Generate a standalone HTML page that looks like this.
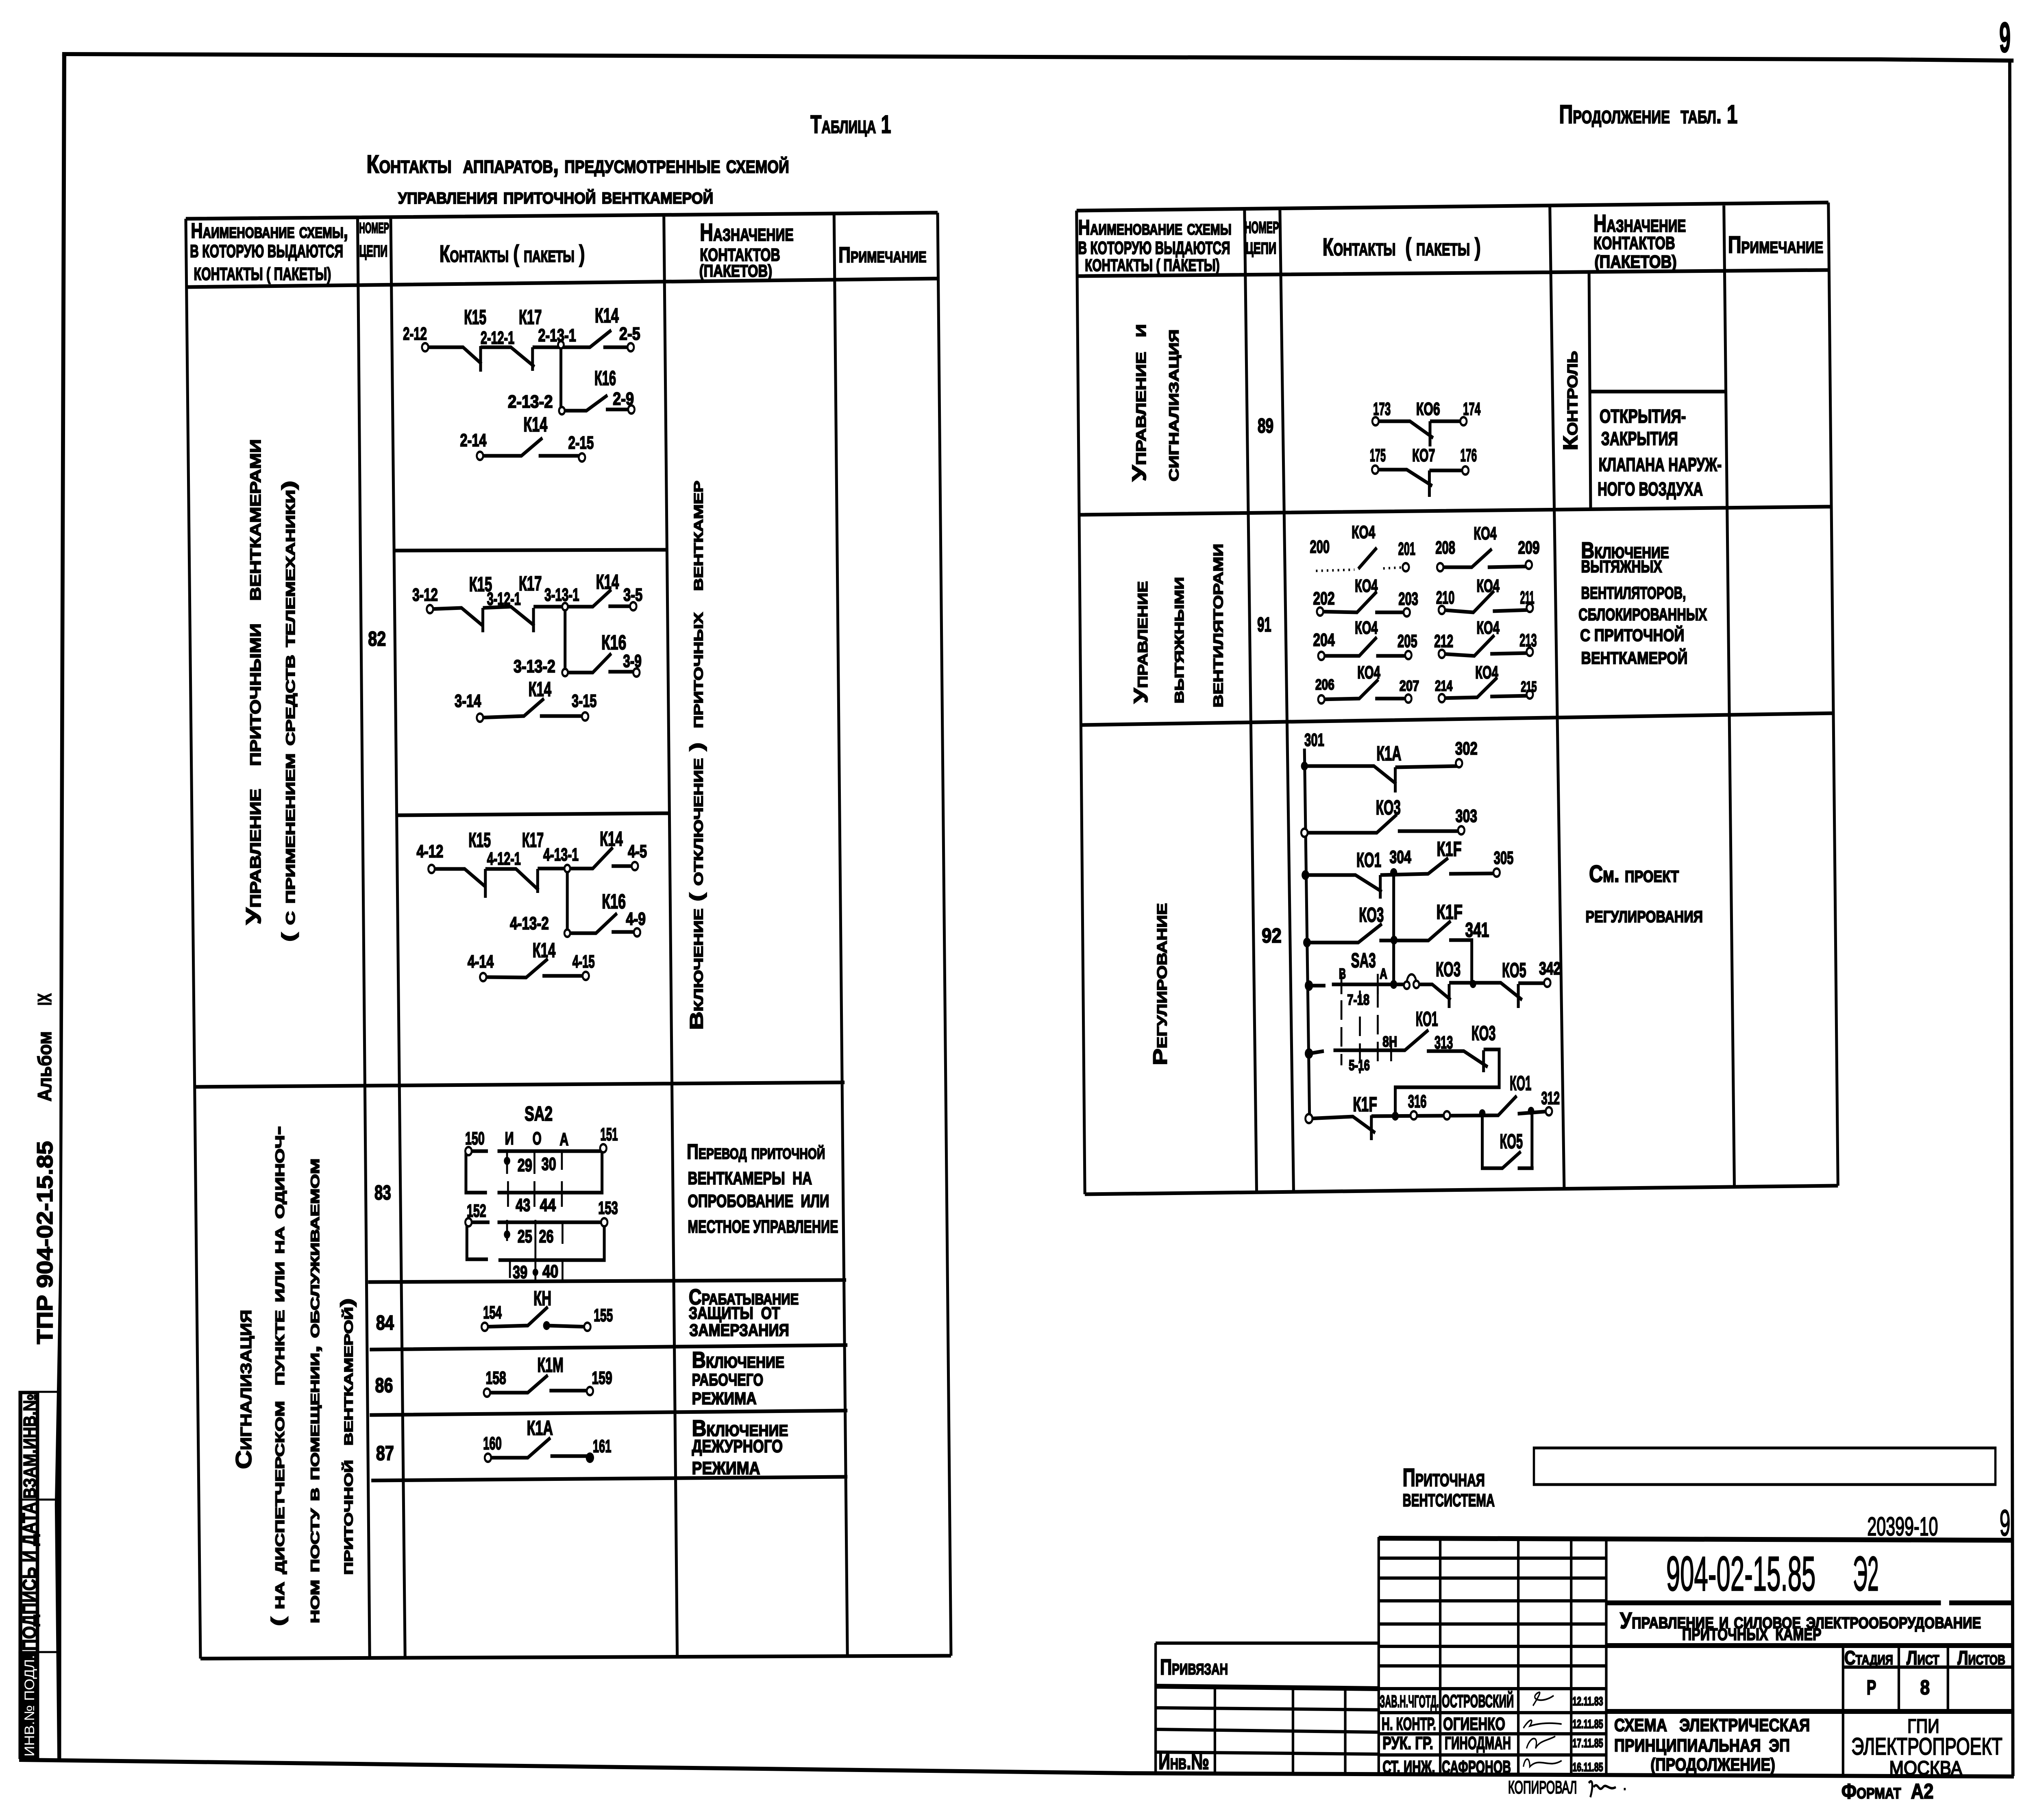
<!DOCTYPE html>
<html lang="ru"><head><meta charset="utf-8"><title>904-02-15.85 Э2</title>
<style>
html,body{margin:0;padding:0;background:#fff;width:100%;height:100%;overflow:hidden}
svg{display:block;width:100%;height:100%}
text{font-family:"Liberation Sans","Noto Sans CJK SC",sans-serif;font-weight:700;fill:#000;stroke:#000;stroke-width:2.5;dominant-baseline:central;white-space:pre}
.t{font-variant:small-caps}
.l{text-anchor:middle;font-size:44px}
.k{text-anchor:middle;font-size:50px}
.n{text-anchor:middle;font-size:36px}
.f,.w,.g,.s{fill:none;stroke:#000}
.f{stroke-width:10}
.g{stroke-width:9}
.w{stroke-width:9}
.s{stroke-width:4}
.c{fill:#fff;stroke:#000;stroke-width:6}
.d{fill:#000}
</style></head><body>
<svg xmlns="http://www.w3.org/2000/svg" viewBox="0 0 6379 4476" preserveAspectRatio="none">
<rect width="6379" height="4476" fill="#fff"/>

<!-- sheet frame -->
<path class="f" d="M195 133 L1500 136 L5900 146 L6318 149"/>
<path d="M195 133 H208 L199 2300 L193 3300 L192 4326 H180 L172 3700 L186 3100 L187 2300 Z"/>
<path class="f" d="M6306 149 L6316 4368"/>
<path class="f" d="M60 4328 L3550 4361 L6319 4369"/>
<text x="6273" y="92" font-size="105" textLength="36" lengthAdjust="spacingAndGlyphs">9</text>

<!-- left binding strip -->
<rect x="58" y="3421" width="12" height="905"/>
<rect x="112" y="3421" width="11" height="905"/>
<path class="g" style="stroke-width:5" d="M58 3423H190 M58 3688H190 M58 4063H190"/>
<rect x="58" y="3421" width="65" height="8"/>
<rect x="58" y="4063" width="60" height="263"/>
<text transform="translate(93,3686) rotate(-90)" font-size="56" textLength="258" lengthAdjust="spacingAndGlyphs">ВЗАМ.ИНВ.№</text>
<text transform="translate(93,4060) rotate(-90)" font-size="60" textLength="366" lengthAdjust="spacingAndGlyphs">ПОДПИСЬ И ДАТА</text>
<text transform="translate(93,4320) rotate(-90)" font-size="44" textLength="250" lengthAdjust="spacingAndGlyphs" style="fill:#fff;stroke:none;font-weight:400">ИНВ.№ ПОДЛ.</text>
<text transform="translate(141,3306) rotate(-90)" font-size="70" textLength="500" lengthAdjust="spacingAndGlyphs">ТПР 904-02-15.85</text>
<text transform="translate(141,2709) rotate(-90)" font-size="60" textLength="173" lengthAdjust="spacingAndGlyphs">Альбом</text>
<text transform="translate(141,2473) rotate(-90)" font-size="60" textLength="30" lengthAdjust="spacingAndGlyphs">IX</text>

<!-- TABLE 1 titles -->
<text class="t" x="2543" y="306" font-size="62" textLength="253" lengthAdjust="spacingAndGlyphs">Таблица 1</text>
<text class="t" x="1150" y="404" font-size="62" textLength="1326" lengthAdjust="spacingAndGlyphs">Контакты  аппаратов, предусмотренные схемой</text>
<text class="t" x="1249" y="481" font-size="56" textLength="989" lengthAdjust="spacingAndGlyphs">управления приточной венткамерой</text>

<!-- TABLE 1 grid -->
<path class="g" d="M583 538 L2942 523 M583 706 L2942 685
M583 538 L629 4079 M1122 537 L1160 4079 M1226 536 L1271 4077 M2083 530 L2125 4075 M2617 525 L2659 4073 M2942 523 L2984 4072
M629 4079 L2984 4072
M1238 1354 L2092 1352 M1246 2005 L2100 2000
M613 2673 L2650 2662 M1155 3153 L2655 3148 M1160 3319 L2659 3308 M1160 3480 L2659 3469 M1165 3641 L2659 3632"/>

<!-- TABLE 1 header -->
<text class="t" x="599" y="567" font-size="52" textLength="493" lengthAdjust="spacingAndGlyphs">Наименование схемы,</text>
<text x="596" y="618" font-size="44" textLength="481" lengthAdjust="spacingAndGlyphs">В КОТОРУЮ ВЫДАЮТСЯ</text>
<text x="608" y="674" font-size="44" textLength="431" lengthAdjust="spacingAndGlyphs">КОНТАКТЫ ( ПАКЕТЫ)</text>
<text x="1127" y="561" font-size="36" textLength="94" lengthAdjust="spacingAndGlyphs">НОМЕР</text>
<text x="1127" y="617" font-size="40" textLength="89" lengthAdjust="spacingAndGlyphs">ЦЕПИ</text>
<text class="t" x="1379" y="625" font-size="58" textLength="456" lengthAdjust="spacingAndGlyphs">Контакты ( пакеты )</text>
<text class="t" x="2196" y="572" font-size="60" textLength="294" lengthAdjust="spacingAndGlyphs">Назначение</text>
<text x="2196" y="627" font-size="44" textLength="252" lengthAdjust="spacingAndGlyphs">КОНТАКТОВ</text>
<text x="2194" y="666" font-size="42" textLength="229" lengthAdjust="spacingAndGlyphs">(ПАКЕТОВ)</text>
<text class="t" x="2631" y="627" font-size="54" textLength="276" lengthAdjust="spacingAndGlyphs">Примечание</text>

<!-- TABLE 1 rotated -->
<text class="t" transform="translate(795,2274) rotate(-90)" font-size="66" textLength="1194" lengthAdjust="spacingAndGlyphs">Управление   приточными   венткамерами</text>
<text class="t" transform="translate(906,2316) rotate(-90)" font-size="58" textLength="1134" lengthAdjust="spacingAndGlyphs">( с применением средств телемеханики)</text>
<text class="t" transform="translate(2186,2533) rotate(-90)" font-size="58" textLength="1351" lengthAdjust="spacingAndGlyphs">Включение ( отключение )  приточных   венткамер</text>
<text class="t" transform="translate(765,3613) rotate(-90)" font-size="70" textLength="392" lengthAdjust="spacingAndGlyphs">Сигнализация</text>
<text class="t" transform="translate(873,3999) rotate(-90)" font-size="58" textLength="1230" lengthAdjust="spacingAndGlyphs">( на диспетчерском  пункте или на одиноч-</text>
<text class="t" transform="translate(984,3992) rotate(-90)" font-size="54" textLength="1143" lengthAdjust="spacingAndGlyphs">ном посту в помещении, обслуживаемом</text>
<text class="t" transform="translate(1089,3873) rotate(-90)" font-size="54" textLength="680" lengthAdjust="spacingAndGlyphs">приточной  венткамерой)</text>

<!-- row numbers T1 -->
<text class="k" x="1183" y="1571" textLength="56" lengthAdjust="spacingAndGlyphs">82</text>
<text class="k" x="1201" y="2933" textLength="52" lengthAdjust="spacingAndGlyphs">83</text>
<text class="k" x="1208" y="3253" textLength="56" lengthAdjust="spacingAndGlyphs">84</text>
<text class="k" x="1205" y="3407" textLength="56" lengthAdjust="spacingAndGlyphs">86</text>
<text class="k" x="1208" y="3574" textLength="56" lengthAdjust="spacingAndGlyphs">87</text>

<!-- T1 circuits -->
<path class="w" d="M1334 854H1453L1511 895 M1508 851V914 M1508 854H1603L1677 902 M1671 854V912 M1671 854H1851L1918 812 M1893 854H1979 M1760 854V1010H1840L1906 972 M1901 1007H1981
M1506 1121H1636L1702 1077 M1690 1121H1826
M1349 1498L1448 1495L1515 1539 M1515 1495V1555 M1515 1495L1603 1492L1677 1539 M1674 1495V1555 M1674 1492H1860L1918 1450 M1909 1491H1987 M1773 1492V1654H1860L1918 1607 M1909 1652H1997
M1506 1765L1644 1761L1707 1718 M1694 1761H1836
M1354 2137H1458L1525 2182 M1523 2137V2208 M1523 2137H1619L1690 2189 M1687 2137V2196 M1687 2136H1860L1923 2084 M1919 2130H1992 M1780 2136V2295H1870L1936 2246 M1919 2292H1999
M1516 2403L1651 2404L1719 2358 M1702 2400H1838
M1470 2831H1531 M1462 2831V2933H1528 M1561 2831H1889V2933H1561
M1470 3006H1536 M1465 3013V3097H1531 M1561 3006H1896V3099H1564
M1521 3263L1656 3260L1719 3214 M1715 3260L1843 3263
M1528 3425H1656L1719 3382 M1724 3420H1851
M1531 3585H1656L1727 3536 M1727 3581H1851"/>
<path class="w" style="stroke-width:6" d="M1591 2831V2887 M1677 2828V2887 M1763 2828V2877 M1594 2905V2968 M1677 2905V2968 M1763 2905V2968
M1591 3000V3052 M1680 3000V3153 M1765 3003V3059 M1600 3101V3143 M1765 3101V3148"/>
<g>
<circle class="c" cx="1334" cy="854" r="10"/><circle class="c" cx="1760" cy="848" r="9"/><circle class="c" cx="1979" cy="854" r="10"/><circle class="c" cx="1763" cy="1010" r="9"/><circle class="c" cx="1981" cy="1007" r="10"/><circle class="c" cx="1506" cy="1121" r="10"/><circle class="c" cx="1826" cy="1125" r="10"/>
<circle class="c" cx="1349" cy="1498" r="10"/><circle class="c" cx="1773" cy="1492" r="9"/><circle class="c" cx="1987" cy="1491" r="10"/><circle class="c" cx="1773" cy="1654" r="9"/><circle class="c" cx="1997" cy="1654" r="10"/><circle class="c" cx="1506" cy="1765" r="10"/><circle class="c" cx="1836" cy="1762" r="10"/>
<circle class="c" cx="1354" cy="2137" r="10"/><circle class="c" cx="1780" cy="2136" r="9"/><circle class="c" cx="1992" cy="2130" r="10"/><circle class="c" cx="1780" cy="2295" r="9"/><circle class="c" cx="1999" cy="2293" r="10"/><circle class="c" cx="1516" cy="2403" r="10"/><circle class="c" cx="1838" cy="2400" r="10"/>
<circle class="c" cx="1470" cy="2831" r="10"/><circle class="c" cx="1893" cy="2824" r="10"/><circle class="c" cx="1470" cy="3006" r="10"/><circle class="c" cx="1896" cy="3006" r="10"/>
<circle class="c" cx="1521" cy="3263" r="10"/><circle class="c" cx="1843" cy="3263" r="10"/><circle class="d" cx="1715" cy="3260" r="11"/>
<circle class="c" cx="1528" cy="3425" r="10"/><circle class="c" cx="1851" cy="3421" r="10"/>
<circle class="c" cx="1531" cy="3585" r="10"/><circle class="d" cx="1851" cy="3585" r="13"/>
<circle class="d" cx="1591" cy="2855" r="10"/><circle class="d" cx="1591" cy="3036" r="10"/><circle class="d" cx="1680" cy="3129" r="9"/>
</g>

<!-- T1 labels -->
<text class="k" x="1491" y="780" textLength="70" lengthAdjust="spacingAndGlyphs">К15</text>
<text class="k" x="1664" y="780" textLength="72" lengthAdjust="spacingAndGlyphs">К17</text>
<text class="k" x="1904" y="776" textLength="75" lengthAdjust="spacingAndGlyphs">К14</text>
<text class="l" x="1302" y="821" textLength="75" lengthAdjust="spacingAndGlyphs">2-12</text>
<text class="l" x="1561" y="831" textLength="106" lengthAdjust="spacingAndGlyphs">2-12-1</text>
<text class="l" x="1748" y="825" textLength="119" lengthAdjust="spacingAndGlyphs">2-13-1</text>
<text class="l" x="1976" y="821" textLength="66" lengthAdjust="spacingAndGlyphs">2-5</text>
<text class="k" x="1899" y="930" textLength="68" lengthAdjust="spacingAndGlyphs">К16</text>
<text class="l" x="1664" y="988" textLength="141" lengthAdjust="spacingAndGlyphs">2-13-2</text>
<text class="l" x="1956" y="981" textLength="66" lengthAdjust="spacingAndGlyphs">2-9</text>
<text class="k" x="1680" y="1044" textLength="75" lengthAdjust="spacingAndGlyphs">К14</text>
<text class="l" x="1485" y="1083" textLength="83" lengthAdjust="spacingAndGlyphs">2-14</text>
<text class="l" x="1823" y="1089" textLength="80" lengthAdjust="spacingAndGlyphs">2-15</text>

<text class="k" x="1508" y="1437" textLength="72" lengthAdjust="spacingAndGlyphs">К15</text>
<text class="l" x="1334" y="1463" textLength="80" lengthAdjust="spacingAndGlyphs">3-12</text>
<text class="l" x="1581" y="1473" textLength="106" lengthAdjust="spacingAndGlyphs">3-12-1</text>
<text class="k" x="1664" y="1435" textLength="72" lengthAdjust="spacingAndGlyphs">К17</text>
<text class="l" x="1763" y="1463" textLength="109" lengthAdjust="spacingAndGlyphs">3-13-1</text>
<text class="k" x="1906" y="1431" textLength="72" lengthAdjust="spacingAndGlyphs">К14</text>
<text class="l" x="1986" y="1463" textLength="60" lengthAdjust="spacingAndGlyphs">3-5</text>
<text class="k" x="1926" y="1580" textLength="78" lengthAdjust="spacingAndGlyphs">К16</text>
<text class="l" x="1984" y="1626" textLength="58" lengthAdjust="spacingAndGlyphs">3-9</text>
<text class="l" x="1677" y="1639" textLength="131" lengthAdjust="spacingAndGlyphs">3-13-2</text>
<text class="k" x="1694" y="1695" textLength="72" lengthAdjust="spacingAndGlyphs">К14</text>
<text class="l" x="1468" y="1724" textLength="83" lengthAdjust="spacingAndGlyphs">3-14</text>
<text class="l" x="1833" y="1724" textLength="78" lengthAdjust="spacingAndGlyphs">3-15</text>

<text class="l" x="1349" y="2094" textLength="84" lengthAdjust="spacingAndGlyphs">4-12</text>
<text class="k" x="1505" y="2066" textLength="70" lengthAdjust="spacingAndGlyphs">К15</text>
<text class="l" x="1581" y="2112" textLength="106" lengthAdjust="spacingAndGlyphs">4-12-1</text>
<text class="k" x="1672" y="2066" textLength="68" lengthAdjust="spacingAndGlyphs">К17</text>
<text class="l" x="1760" y="2102" textLength="111" lengthAdjust="spacingAndGlyphs">4-13-1</text>
<text class="k" x="1918" y="2063" textLength="72" lengthAdjust="spacingAndGlyphs">К14</text>
<text class="l" x="2000" y="2094" textLength="60" lengthAdjust="spacingAndGlyphs">4-5</text>
<text class="k" x="1926" y="2217" textLength="75" lengthAdjust="spacingAndGlyphs">К16</text>
<text class="l" x="1995" y="2260" textLength="62" lengthAdjust="spacingAndGlyphs">4-9</text>
<text class="l" x="1661" y="2271" textLength="122" lengthAdjust="spacingAndGlyphs">4-13-2</text>
<text class="k" x="1707" y="2337" textLength="72" lengthAdjust="spacingAndGlyphs">К14</text>
<text class="l" x="1508" y="2365" textLength="82" lengthAdjust="spacingAndGlyphs">4-14</text>
<text class="l" x="1831" y="2365" textLength="70" lengthAdjust="spacingAndGlyphs">4-15</text>

<text class="k" x="1690" y="2739" textLength="88" lengthAdjust="spacingAndGlyphs">SA2</text>
<text class="l" x="1490" y="2800" textLength="61" lengthAdjust="spacingAndGlyphs">150</text>
<text class="l" x="1598" y="2800" textLength="28" lengthAdjust="spacingAndGlyphs">И</text>
<text class="l" x="1685" y="2800" textLength="28" lengthAdjust="spacingAndGlyphs">О</text>
<text class="l" x="1770" y="2802" textLength="28" lengthAdjust="spacingAndGlyphs">А</text>
<text class="l" x="1911" y="2790" textLength="55" lengthAdjust="spacingAndGlyphs">151</text>
<text class="l" x="1647" y="2866" textLength="46" lengthAdjust="spacingAndGlyphs">29</text>
<text class="l" x="1722" y="2863" textLength="46" lengthAdjust="spacingAndGlyphs">30</text>
<text class="l" x="1641" y="2964" textLength="46" lengthAdjust="spacingAndGlyphs">43</text>
<text class="l" x="1719" y="2964" textLength="50" lengthAdjust="spacingAndGlyphs">44</text>
<text class="l" x="1495" y="2978" textLength="61" lengthAdjust="spacingAndGlyphs">152</text>
<text class="l" x="1908" y="2971" textLength="62" lengthAdjust="spacingAndGlyphs">153</text>
<text class="l" x="1647" y="3041" textLength="46" lengthAdjust="spacingAndGlyphs">25</text>
<text class="l" x="1714" y="3041" textLength="46" lengthAdjust="spacingAndGlyphs">26</text>
<text class="l" x="1632" y="3129" textLength="46" lengthAdjust="spacingAndGlyphs">39</text>
<text class="l" x="1727" y="3127" textLength="50" lengthAdjust="spacingAndGlyphs">40</text>
<text class="l" x="1545" y="3228" textLength="58" lengthAdjust="spacingAndGlyphs">154</text>
<text class="k" x="1702" y="3193" textLength="56" lengthAdjust="spacingAndGlyphs">КН</text>
<text class="l" x="1893" y="3235" textLength="60" lengthAdjust="spacingAndGlyphs">155</text>
<text class="l" x="1556" y="3389" textLength="64" lengthAdjust="spacingAndGlyphs">158</text>
<text class="k" x="1727" y="3357" textLength="82" lengthAdjust="spacingAndGlyphs">К1М</text>
<text class="l" x="1889" y="3389" textLength="64" lengthAdjust="spacingAndGlyphs">159</text>
<text class="l" x="1545" y="3550" textLength="58" lengthAdjust="spacingAndGlyphs">160</text>
<text class="k" x="1694" y="3512" textLength="82" lengthAdjust="spacingAndGlyphs">К1А</text>
<text class="l" x="1889" y="3557" textLength="58" lengthAdjust="spacingAndGlyphs">161</text>

<!-- T1 right text -->
<text class="t" x="2155" y="2832" font-size="52" textLength="434" lengthAdjust="spacingAndGlyphs">Перевод приточной</text>
<text x="2158" y="2898" font-size="44" textLength="390" lengthAdjust="spacingAndGlyphs">ВЕНТКАМЕРЫ  НА</text>
<text x="2158" y="2954" font-size="44" textLength="444" lengthAdjust="spacingAndGlyphs">ОПРОБОВАНИЕ  ИЛИ</text>
<text x="2158" y="3017" font-size="44" textLength="472" lengthAdjust="spacingAndGlyphs">МЕСТНОЕ УПРАВЛЕНИЕ</text>
<text class="t" x="2161" y="3190" font-size="54" textLength="345" lengthAdjust="spacingAndGlyphs">Срабатывание</text>
<text x="2161" y="3229" font-size="42" textLength="287" lengthAdjust="spacingAndGlyphs">ЗАЩИТЫ  ОТ</text>
<text x="2163" y="3271" font-size="42" textLength="313" lengthAdjust="spacingAndGlyphs">ЗАМЕРЗАНИЯ</text>
<text class="t" x="2171" y="3344" font-size="56" textLength="290" lengthAdjust="spacingAndGlyphs">Включение</text>
<text x="2171" y="3393" font-size="42" textLength="224" lengthAdjust="spacingAndGlyphs">РАБОЧЕГО</text>
<text x="2171" y="3439" font-size="42" textLength="203" lengthAdjust="spacingAndGlyphs">РЕЖИМА</text>
<text class="t" x="2171" y="3512" font-size="56" textLength="302" lengthAdjust="spacingAndGlyphs">Включение</text>
<text x="2171" y="3557" font-size="44" textLength="285" lengthAdjust="spacingAndGlyphs">ДЕЖУРНОГО</text>
<text x="2171" y="3611" font-size="44" textLength="214" lengthAdjust="spacingAndGlyphs">РЕЖИМА</text>

<!-- TABLE 2 -->
<text class="t" x="4892" y="282" font-size="64" textLength="560" lengthAdjust="spacingAndGlyphs">Продолжение  табл. 1</text>
<path class="g" d="M3378 518 L5737 498 M3378 679 L5741 664 M3378 518 L3404 2937 M3905 516 L3943 2935 M4016 515 L4059 2934 M4863 507 L4908 2928 M5409 502 L5442 2921 M5737 498 L5767 2916
M3404 2937 L5767 2916 M3386 1266 L5746 1246 M3396 1783 L5754 1754
M4986 669 L4991 1256 M4991 963 H5414"/>
<text class="t" x="3383" y="559" font-size="52" textLength="481" lengthAdjust="spacingAndGlyphs">Наименование схемы</text>
<text x="3383" y="610" font-size="44" textLength="477" lengthAdjust="spacingAndGlyphs">В КОТОРУЮ ВЫДАЮТСЯ</text>
<text x="3404" y="652" font-size="42" textLength="423" lengthAdjust="spacingAndGlyphs">КОНТАКТЫ ( ПАКЕТЫ)</text>
<text x="3905" y="559" font-size="40" textLength="108" lengthAdjust="spacingAndGlyphs">НОМЕР</text>
<text x="3908" y="610" font-size="40" textLength="97" lengthAdjust="spacingAndGlyphs">ЦЕПИ</text>
<text class="t" x="4150" y="608" font-size="60" textLength="496" lengthAdjust="spacingAndGlyphs">Контакты  ( пакеты )</text>
<text class="t" x="5000" y="550" font-size="60" textLength="290" lengthAdjust="spacingAndGlyphs">Назначение</text>
<text x="5000" y="598" font-size="44" textLength="256" lengthAdjust="spacingAndGlyphs">КОНТАКТОВ</text>
<text x="5003" y="644" font-size="44" textLength="258" lengthAdjust="spacingAndGlyphs">(ПАКЕТОВ)</text>
<text class="t" x="5422" y="603" font-size="58" textLength="299" lengthAdjust="spacingAndGlyphs">Примечание</text>

<text class="t" transform="translate(3574,1184) rotate(-90)" font-size="62" textLength="387" lengthAdjust="spacingAndGlyphs">Управление  и</text>
<text class="t" transform="translate(3678,1184) rotate(-90)" font-size="60" textLength="374" lengthAdjust="spacingAndGlyphs">сигнализация</text>
<text class="t" transform="translate(4928,1108) rotate(-90)" font-size="64" textLength="245" lengthAdjust="spacingAndGlyphs">Контроль</text>
<text class="t" transform="translate(3579,1730) rotate(-90)" font-size="62" textLength="301" lengthAdjust="spacingAndGlyphs">Управление</text>
<text class="t" transform="translate(3695,1730) rotate(-90)" font-size="58" textLength="311" lengthAdjust="spacingAndGlyphs">вытяжными</text>
<text class="t" transform="translate(3817,1740) rotate(-90)" font-size="60" textLength="403" lengthAdjust="spacingAndGlyphs">вентиляторами</text>
<text class="t" transform="translate(3640,2620) rotate(-90)" font-size="62" textLength="399" lengthAdjust="spacingAndGlyphs">Регулирование</text>

<text class="k" x="3971" y="1047" textLength="50" lengthAdjust="spacingAndGlyphs">89</text>
<text class="k" x="3967" y="1536" textLength="44" lengthAdjust="spacingAndGlyphs">91</text>
<text class="k" x="3990" y="2301" textLength="62" lengthAdjust="spacingAndGlyphs">92</text>

<text x="5019" y="1024" font-size="46" textLength="271" lengthAdjust="spacingAndGlyphs">ОТКРЫТИЯ-</text>
<text x="5024" y="1079" font-size="46" textLength="241" lengthAdjust="spacingAndGlyphs">ЗАКРЫТИЯ</text>
<text x="5016" y="1143" font-size="46" textLength="386" lengthAdjust="spacingAndGlyphs">КЛАПАНА НАРУЖ-</text>
<text x="5013" y="1203" font-size="46" textLength="330" lengthAdjust="spacingAndGlyphs">НОГО ВОЗДУХА</text>

<text class="t" x="4961" y="1353" font-size="56" textLength="276" lengthAdjust="spacingAndGlyphs">Включение</text>
<text x="4961" y="1393" font-size="42" textLength="254" lengthAdjust="spacingAndGlyphs">ВЫТЯЖНЫХ</text>
<text x="4961" y="1458" font-size="42" textLength="329" lengthAdjust="spacingAndGlyphs">ВЕНТИЛЯТОРОВ,</text>
<text x="4953" y="1511" font-size="42" textLength="403" lengthAdjust="spacingAndGlyphs">СБЛОКИРОВАННЫХ</text>
<text x="4958" y="1562" font-size="42" textLength="327" lengthAdjust="spacingAndGlyphs">С ПРИТОЧНОЙ</text>
<text x="4961" y="1618" font-size="42" textLength="334" lengthAdjust="spacingAndGlyphs">ВЕНТКАМЕРОЙ</text>

<text class="t" x="4986" y="2150" font-size="58" textLength="282" lengthAdjust="spacingAndGlyphs">См. проект</text>
<text x="4975" y="2254" font-size="40" textLength="368" lengthAdjust="spacingAndGlyphs">РЕГУЛИРОВАНИЯ</text>

<!-- T2 circuits -->
<path class="w" d="M4316 1036H4424L4497 1077 M4487 1036V1098 M4487 1036H4592
M4315 1155H4414L4494 1195 M4485 1157V1222 M4485 1157H4598
M4262 1399L4320 1347 M4519 1395H4618L4681 1350 M4668 1395L4797 1393
M4142 1504L4258 1506L4320 1455 M4315 1506H4414 M4524 1500L4623 1506L4688 1453 M4684 1503L4800 1500
M4146 1613H4265L4320 1567 M4318 1613H4419 M4524 1608L4626 1613L4689 1562 M4676 1608L4800 1606
M4146 1720L4265 1718L4325 1671 M4315 1718H4419 M4524 1717L4635 1715L4698 1666 M4676 1713L4800 1711
M4093 1841L4109 2749
M4093 1884H4311L4381 1928 M4378 1887V1949 M4378 1887L4578 1884
M4093 2048H4320L4383 2003 M4386 2044H4585
M4096 2152H4253L4336 2193 M4331 2152V2210 M4331 2152L4481 2149L4544 2110 M4547 2149L4696 2148 M4373 2139V2417
M4101 2318H4262L4336 2272 M4328 2313H4482L4552 2265 M4547 2312H4618V2417
M4107 2424H4159 M4179 2421H4414 M4444 2421H4494L4552 2459 M4547 2420V2479 M4547 2417H4709L4776 2459 M4764 2420V2479 M4764 2418H4855
M4107 2591L4154 2585 M4184 2583H4408L4482 2533 M4477 2585H4593L4668 2624 M4655 2583V2637 M4655 2581H4704V2674H4378V2746
M4107 2751L4245 2746L4315 2786 M4303 2743V2804 M4303 2745L4701 2743L4759 2695 M4762 2739L4860 2733
M4651 2736V2873H4714L4772 2832 M4762 2873H4812 M4807 2736V2873"/>
<path class="w" style="stroke-width:6;stroke-dasharray:5 12" d="M4129 1404L4250 1401 M4340 1398L4411 1395"/>
<path class="w" style="stroke-width:6" d="M4209 2395V2445 M4323 2395V2445 M4267 2436V2470 M4365 2560V2610"/>
<path class="w" style="stroke-width:6;stroke-dasharray:48 18" d="M4209 2460V2620 M4267 2500V2640 M4323 2430V2616"/>
<path class="w" style="stroke-width:6" d="M4414 2415C4418 2390 4440 2390 4444 2415"/>
<g>
<circle class="c" cx="4316" cy="1036" r="10"/><circle class="c" cx="4592" cy="1036" r="10"/><circle class="c" cx="4315" cy="1155" r="10"/><circle class="c" cx="4598" cy="1157" r="10"/>
<circle class="c" cx="4411" cy="1395" r="10"/><circle class="c" cx="4519" cy="1395" r="10"/><circle class="c" cx="4797" cy="1389" r="10"/>
<circle class="c" cx="4142" cy="1504" r="10"/><circle class="c" cx="4414" cy="1506" r="10"/><circle class="c" cx="4524" cy="1500" r="10"/><circle class="c" cx="4800" cy="1495" r="10"/>
<circle class="c" cx="4146" cy="1613" r="10"/><circle class="c" cx="4419" cy="1611" r="10"/><circle class="c" cx="4524" cy="1608" r="10"/><circle class="c" cx="4800" cy="1603" r="10"/>
<circle class="c" cx="4146" cy="1720" r="10"/><circle class="c" cx="4419" cy="1718" r="10"/><circle class="c" cx="4524" cy="1717" r="10"/><circle class="c" cx="4800" cy="1708" r="10"/>
<circle class="c" cx="4578" cy="1877" r="10"/><circle class="c" cx="4093" cy="2048" r="10"/><circle class="c" cx="4585" cy="2042" r="10"/><circle class="c" cx="4696" cy="2146" r="10"/>
<circle class="c" cx="4414" cy="2423" r="9"/><circle class="c" cx="4444" cy="2421" r="9"/><circle class="c" cx="4855" cy="2417" r="10"/>
<circle class="c" cx="4107" cy="2751" r="11"/><circle class="c" cx="4436" cy="2743" r="10"/><circle class="c" cx="4540" cy="2743" r="10"/><circle class="c" cx="4860" cy="2733" r="10"/>
<circle class="d" cx="4093" cy="1884" r="11"/><circle class="d" cx="4096" cy="2152" r="12"/><circle class="d" cx="4373" cy="2146" r="11"/><circle class="d" cx="4101" cy="2318" r="12"/><circle class="d" cx="4374" cy="2312" r="11"/><circle class="d" cx="4107" cy="2424" r="13"/><circle class="d" cx="4373" cy="2421" r="11"/><circle class="d" cx="4622" cy="2420" r="10"/><circle class="d" cx="4107" cy="2591" r="13"/><circle class="d" cx="4378" cy="2745" r="11"/><circle class="d" cx="4651" cy="2738" r="10"/><circle class="d" cx="4804" cy="2732" r="10"/>
</g>

<!-- T2 labels -->
<text class="l" x="4336" y="1006" textLength="55" lengthAdjust="spacingAndGlyphs">173</text>
<text class="l" x="4481" y="1006" textLength="75" lengthAdjust="spacingAndGlyphs">КО6</text>
<text class="l" x="4618" y="1006" textLength="55" lengthAdjust="spacingAndGlyphs">174</text>
<text class="l" x="4323" y="1120" textLength="50" lengthAdjust="spacingAndGlyphs">175</text>
<text class="l" x="4467" y="1120" textLength="72" lengthAdjust="spacingAndGlyphs">КО7</text>
<text class="l" x="4608" y="1120" textLength="52" lengthAdjust="spacingAndGlyphs">176</text>

<text class="l" x="4141" y="1345" textLength="62" lengthAdjust="spacingAndGlyphs">200</text>
<text class="l" x="4278" y="1309" textLength="74" lengthAdjust="spacingAndGlyphs">КО4</text>
<text class="l" x="4414" y="1350" textLength="54" lengthAdjust="spacingAndGlyphs">201</text>
<text class="l" x="4535" y="1347" textLength="62" lengthAdjust="spacingAndGlyphs">208</text>
<text class="l" x="4660" y="1312" textLength="72" lengthAdjust="spacingAndGlyphs">КО4</text>
<text class="l" x="4797" y="1347" textLength="68" lengthAdjust="spacingAndGlyphs">209</text>
<text class="l" x="4154" y="1472" textLength="68" lengthAdjust="spacingAndGlyphs">202</text>
<text class="l" x="4287" y="1441" textLength="72" lengthAdjust="spacingAndGlyphs">КО4</text>
<text class="l" x="4419" y="1473" textLength="62" lengthAdjust="spacingAndGlyphs">203</text>
<text class="l" x="4535" y="1470" textLength="58" lengthAdjust="spacingAndGlyphs">210</text>
<text class="l" x="4669" y="1441" textLength="72" lengthAdjust="spacingAndGlyphs">КО4</text>
<text class="l" x="4792" y="1470" textLength="45" lengthAdjust="spacingAndGlyphs">211</text>
<text class="l" x="4154" y="1574" textLength="68" lengthAdjust="spacingAndGlyphs">204</text>
<text class="l" x="4287" y="1544" textLength="72" lengthAdjust="spacingAndGlyphs">КО4</text>
<text class="l" x="4416" y="1577" textLength="62" lengthAdjust="spacingAndGlyphs">205</text>
<text class="l" x="4530" y="1577" textLength="60" lengthAdjust="spacingAndGlyphs">212</text>
<text class="l" x="4669" y="1544" textLength="72" lengthAdjust="spacingAndGlyphs">КО4</text>
<text class="l" x="4795" y="1575" textLength="54" lengthAdjust="spacingAndGlyphs">213</text>
<text class="n" x="4157" y="1684" textLength="60" lengthAdjust="spacingAndGlyphs">206</text>
<text class="l" x="4295" y="1654" textLength="72" lengthAdjust="spacingAndGlyphs">КО4</text>
<text class="n" x="4422" y="1687" textLength="62" lengthAdjust="spacingAndGlyphs">207</text>
<text class="n" x="4530" y="1687" textLength="55" lengthAdjust="spacingAndGlyphs">214</text>
<text class="l" x="4665" y="1654" textLength="72" lengthAdjust="spacingAndGlyphs">КО4</text>
<text class="n" x="4797" y="1689" textLength="50" lengthAdjust="spacingAndGlyphs">215</text>

<text class="l" x="4124" y="1820" textLength="62" lengthAdjust="spacingAndGlyphs">301</text>
<text class="k" x="4358" y="1853" textLength="78" lengthAdjust="spacingAndGlyphs">К1А</text>
<text class="l" x="4601" y="1841" textLength="70" lengthAdjust="spacingAndGlyphs">302</text>
<text class="k" x="4356" y="1986" textLength="78" lengthAdjust="spacingAndGlyphs">КО3</text>
<text class="l" x="4601" y="2007" textLength="68" lengthAdjust="spacingAndGlyphs">303</text>
<text class="k" x="4295" y="2115" textLength="78" lengthAdjust="spacingAndGlyphs">КО1</text>
<text class="l" x="4394" y="2108" textLength="68" lengthAdjust="spacingAndGlyphs">304</text>
<text class="k" x="4547" y="2088" textLength="78" lengthAdjust="spacingAndGlyphs">К1F</text>
<text class="l" x="4718" y="2110" textLength="62" lengthAdjust="spacingAndGlyphs">305</text>
<text class="k" x="4303" y="2250" textLength="78" lengthAdjust="spacingAndGlyphs">КО3</text>
<text class="k" x="4548" y="2243" textLength="82" lengthAdjust="spacingAndGlyphs">К1F</text>
<text class="k" x="4635" y="2287" textLength="75" lengthAdjust="spacingAndGlyphs">341</text>
<text class="k" x="4278" y="2362" textLength="78" lengthAdjust="spacingAndGlyphs">SA3</text>
<text class="n" x="4212" y="2395" textLength="22" lengthAdjust="spacingAndGlyphs">В</text>
<text class="n" x="4341" y="2395" textLength="24" lengthAdjust="spacingAndGlyphs">А</text>
<text class="k" x="4544" y="2384" textLength="78" lengthAdjust="spacingAndGlyphs">КО3</text>
<text class="k" x="4751" y="2386" textLength="76" lengthAdjust="spacingAndGlyphs">КО5</text>
<text class="l" x="4863" y="2382" textLength="68" lengthAdjust="spacingAndGlyphs">342</text>
<text class="n" x="4262" y="2459" textLength="70" lengthAdjust="spacingAndGlyphs">7-18</text>
<text class="n" x="4361" y="2562" textLength="46" lengthAdjust="spacingAndGlyphs">8Н</text>
<text class="n" x="4265" y="2620" textLength="66" lengthAdjust="spacingAndGlyphs">5-16</text>
<text class="k" x="4477" y="2506" textLength="70" lengthAdjust="spacingAndGlyphs">КО1</text>
<text class="l" x="4530" y="2564" textLength="58" lengthAdjust="spacingAndGlyphs">313</text>
<text class="k" x="4655" y="2541" textLength="76" lengthAdjust="spacingAndGlyphs">КО3</text>
<text class="k" x="4283" y="2716" textLength="76" lengthAdjust="spacingAndGlyphs">К1F</text>
<text class="l" x="4447" y="2709" textLength="58" lengthAdjust="spacingAndGlyphs">316</text>
<text class="k" x="4771" y="2664" textLength="68" lengthAdjust="spacingAndGlyphs">КО1</text>
<text class="l" x="4865" y="2701" textLength="58" lengthAdjust="spacingAndGlyphs">312</text>
<text class="k" x="4742" y="2807" textLength="72" lengthAdjust="spacingAndGlyphs">КО5</text>

<!-- upper-right caption and box -->
<rect x="4813" y="3561" width="1448" height="90" fill="none" stroke="#000" stroke-width="7"/>
<text class="t" x="4401" y="3634" font-size="62" textLength="258" lengthAdjust="spacingAndGlyphs">Приточная</text>
<text x="4401" y="3690" font-size="44" textLength="289" lengthAdjust="spacingAndGlyphs">ВЕНТСИСТЕМА</text>
<text x="5859" y="3755" font-size="64" textLength="222" lengthAdjust="spacingAndGlyphs" style="font-weight:400">20399-10</text>
<text x="6274" y="3746" font-size="90" textLength="34" lengthAdjust="spacingAndGlyphs" style="font-weight:400">9</text>

<!-- title block -->
<path class="f" style="stroke-width:12" d="M4326 3783 L6319 3788 M5040 3942 H6090 M6116 3942 H6319 M5040 4047 H6319 M5040 4209 H6319 M3626 4147 L4326 4153"/>
<path class="g" style="stroke-width:8" d="M4326 3780 V4361 M4519 3785 V4361 M4764 3785 V4361 M4930 3785 V4361 M5040 3788 V4365
M4326 3832 H5040 M4326 3881 H5040 M4326 3937 H5040 M4326 3994 H5040 M4326 4049 H5040 M4326 4097 H5040 M4326 4153 H5040 M4326 4212 H5040 M4326 4264 H5040 M4326 4316 H5040
M5783 4047 V4368 M5958 4047 V4209 M6112 4047 V4209 M5781 4100 H6319
M3626 4041 H4326 M3626 4041 V4361 M3812 4147 V4361 M4057 4147 V4361 M4221 4147 V4361 M3626 4200 L4326 4205 M3626 4253 L4326 4260 M3626 4309 L4326 4314"/>
<text class="t" x="3640" y="4100" font-size="54" textLength="213" lengthAdjust="spacingAndGlyphs">Привязан</text>
<text class="t" x="3635" y="4333" font-size="54" textLength="159" lengthAdjust="spacingAndGlyphs">Инв.№</text>
<text x="4329" y="4184" font-size="42" textLength="186" lengthAdjust="spacingAndGlyphs">ЗАВ.Н.ЧГОТД.</text>
<text x="4524" y="4184" font-size="44" textLength="226" lengthAdjust="spacingAndGlyphs">ОСТРОВСКИЙ</text>
<text x="4335" y="4240" font-size="44" textLength="171" lengthAdjust="spacingAndGlyphs">Н. КОНТР.</text>
<text x="4528" y="4240" font-size="44" textLength="195" lengthAdjust="spacingAndGlyphs">ОГИЕНКО</text>
<text x="4338" y="4287" font-size="44" textLength="159" lengthAdjust="spacingAndGlyphs">РУК. ГР.</text>
<text x="4533" y="4287" font-size="44" textLength="208" lengthAdjust="spacingAndGlyphs">ГИНОДМАН</text>
<text x="4338" y="4346" font-size="44" textLength="165" lengthAdjust="spacingAndGlyphs">СТ. ИНЖ.</text>
<text x="4524" y="4346" font-size="44" textLength="217" lengthAdjust="spacingAndGlyphs">САФРОНОВ</text>
<text x="4934" y="4184" font-size="30" textLength="96" lengthAdjust="spacingAndGlyphs">12.11.83</text>
<text x="4934" y="4240" font-size="30" textLength="96" lengthAdjust="spacingAndGlyphs">12.11.85</text>
<text x="4934" y="4287" font-size="30" textLength="96" lengthAdjust="spacingAndGlyphs">17.11.85</text>
<text x="4934" y="4346" font-size="30" textLength="96" lengthAdjust="spacingAndGlyphs">16.11.85</text>
<path class="s" d="M4810 4195C4830 4170 4840 4155 4822 4165C4800 4180 4840 4190 4875 4170
M4780 4250C4800 4225 4815 4225 4800 4245C4820 4240 4850 4235 4900 4240
M4790 4300C4800 4270 4830 4265 4818 4300C4830 4280 4860 4280 4880 4270
M4780 4345C4785 4320 4800 4320 4800 4345C4830 4320 4860 4350 4900 4330"/>
<text x="5228" y="3870" font-size="120" textLength="469" lengthAdjust="spacingAndGlyphs" style="font-weight:400">904-02-15.85</text>
<text x="5814" y="3870" font-size="120" textLength="81" lengthAdjust="spacingAndGlyphs" style="font-weight:400">Э2</text>
<text class="t" x="5083" y="3985" font-size="56" textLength="1133" lengthAdjust="spacingAndGlyphs">Управление и силовое электрооборудование</text>
<text x="5278" y="4019" font-size="42" textLength="437" lengthAdjust="spacingAndGlyphs">ПРИТОЧНЫХ  КАМЕР</text>
<text class="t" x="5787" y="4078" font-size="48" textLength="153" lengthAdjust="spacingAndGlyphs">Стадия</text>
<text class="t" x="5982" y="4078" font-size="48" textLength="103" lengthAdjust="spacingAndGlyphs">Лист</text>
<text class="t" x="6142" y="4078" font-size="48" textLength="150" lengthAdjust="spacingAndGlyphs">Листов</text>
<text class="k" x="5872" y="4150" textLength="30" lengthAdjust="spacingAndGlyphs">Р</text>
<text class="k" x="6040" y="4150" textLength="30" lengthAdjust="spacingAndGlyphs">8</text>
<text x="5065" y="4243" font-size="44" textLength="614" lengthAdjust="spacingAndGlyphs">СХЕМА   ЭЛЕКТРИЧЕСКАЯ</text>
<text x="5065" y="4293" font-size="44" textLength="551" lengthAdjust="spacingAndGlyphs">ПРИНЦИПИАЛЬНАЯ  ЭП</text>
<text x="5179" y="4340" font-size="44" textLength="391" lengthAdjust="spacingAndGlyphs">(ПРОДОЛЖЕНИЕ)</text>
<text x="5985" y="4246" font-size="48" textLength="100" lengthAdjust="spacingAndGlyphs" style="font-weight:400">ГПИ</text>
<text x="5809" y="4296" font-size="58" textLength="474" lengthAdjust="spacingAndGlyphs" style="font-weight:400">ЭЛЕКТРОПРОЕКТ</text>
<text x="5928" y="4349" font-size="48" textLength="229" lengthAdjust="spacingAndGlyphs" style="font-weight:400">МОСКВА</text>
<text x="4732" y="4396" font-size="44" textLength="216" lengthAdjust="spacingAndGlyphs" style="font-weight:400">КОПИРОВАЛ</text>
<path class="s" style="stroke-width:6" d="M4985 4385C5000 4370 4998 4400 4990 4420 M5000 4395C5015 4380 5015 4410 5030 4395C5040 4385 5050 4405 5070 4395 M5095 4400h6"/>
<text class="t" x="5778" y="4405" font-size="52" textLength="289" lengthAdjust="spacingAndGlyphs">Формат  А2</text>
</svg>
</body></html>
